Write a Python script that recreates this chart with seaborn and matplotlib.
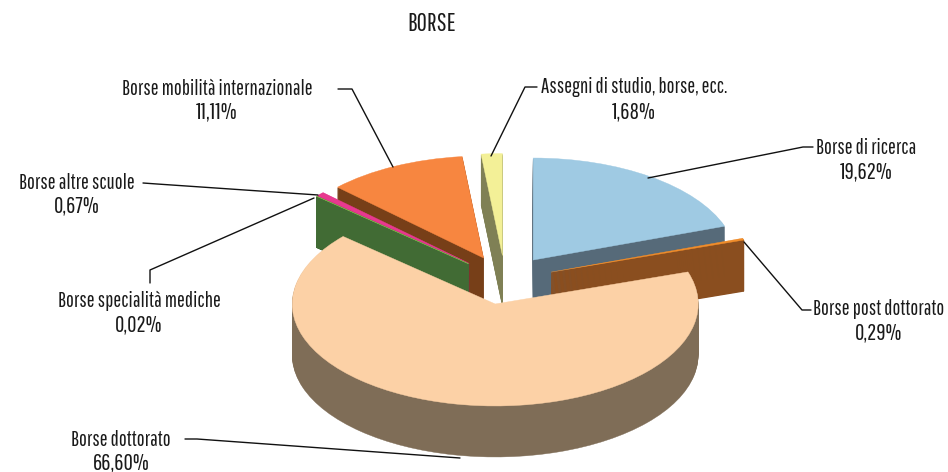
import matplotlib
matplotlib.use("Agg")
import matplotlib.pyplot as plt
import seaborn as sns

labels = ["Borse di ricerca", "Borse post dottorato", "Borse dottorato",
          "Borse specialità mediche", "Borse altre scuole",
          "Borse mobilità internazionale", "Assegni di studio, borse, ecc."]
values = [19.62, 0.29, 66.60, 0.02, 0.67, 11.11, 1.68]
percent_texts = ["19,62%", "0,29%", "66,60%", "0,02%", "0,67%", "11,11%", "1,68%"]
top_colors = ["#9FCAE3", "#F28E2B", "#FCD1A6", "#7DB648", "#E8398F", "#F78640", "#F3F097"]
wall_colors = ["#566A79", "#8A4E1F", "#7F6D57", "#416B34", "#8E1F5C", "#773F18", "#7F8055"]
paint_order = [5, 6, 0, 1, 4, 3, 2]

W, H = 948, 472
CX, CY, RX, RY = 505, 280, 203, 102
EXPLODE = 0.24
DEPTH = 0.50
STEPS = 50

sns.set_theme(style="white")
plt.rcParams["font.family"] = ["Pathway Gothic One", "Archivo Narrow", "PT Sans Narrow", "DejaVu Sans"]

fig = plt.figure(figsize=(W / 100, H / 100), dpi=100)
ax = fig.add_axes([0, 0, 1, 1])

explode = [EXPLODE] * len(values)
for k in range(STEPS, -1, -1):
    colors = top_colors if k == 0 else wall_colors
    wedges, _ = ax.pie(values, explode=explode, colors=sns.color_palette(colors),
                       startangle=90, counterclock=False, radius=1,
                       center=(0, -DEPTH * k / STEPS),
                       wedgeprops={"linewidth": 0.3})
    for i, w in enumerate(wedges):
        w.set_edgecolor(colors[i])
        if values[i] < 1 and k > 0:
            w.set_linewidth(0.9)
        w.set_zorder(10 * (paint_order.index(i) + 1) + (1 if k == 0 else 0) + (STEPS - k) * 0.01)

ax.set_aspect("auto")
ax.set_xlim(-CX / RX, (W - CX) / RX)
ax.set_ylim((CY - H) / RY, CY / RY)
ax.set_axis_off()


def fx(x):
    return x / W


def fy(y):
    return 1 - y / H


# label index, text centre x, first line y, second line y, leader polyline
notes = [
    (0, 866, 148, 172, [(648, 178), (803, 147), (813, 147)]),
    (1, 879, 309, 333, [(744, 242), (802, 310), (811, 310)]),
    (2, 121, 440, 463, [(185, 439), (197, 439), (460, 458)]),
    (3, 139, 301, 325, [(314, 198), (150, 270), (150, 283)]),
    (4, 77, 183, 206, [(143, 183), (157, 184), (318, 195)]),
    (5, 217, 89, 112, [(338, 89), (352, 89), (393, 167)]),
    (6, 634, 87, 112, [(491, 156), (525, 87), (537, 87)]),
]
for idx, tx, y1, y2, line in notes:
    fig.text(fx(tx), fy(y1), labels[idx], ha="center", va="center", fontsize=15, color="#1a1a1a")
    fig.text(fx(tx), fy(y2), percent_texts[idx], ha="center", va="center", fontsize=16.5, color="#1a1a1a")
    fig.add_artist(plt.Line2D([fx(p[0]) for p in line], [fy(p[1]) for p in line],
                              color="#111111", lw=1.0, transform=fig.transFigure))

fig.text(fx(432), fy(24), "BORSE", ha="center", va="center", fontsize=18, color="#1a1a1a")
fig.savefig("out.png", dpi=100, facecolor="white")
